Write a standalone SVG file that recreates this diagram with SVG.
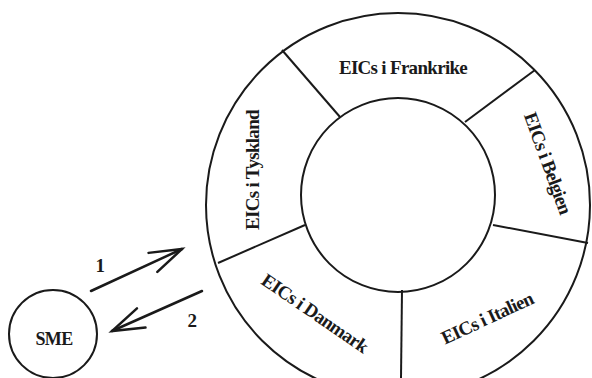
<svg xmlns="http://www.w3.org/2000/svg" width="592" height="378" viewBox="0 0 592 378">
<style>
.ln{fill:none;stroke:#1a1a1a;stroke-width:2}
.ar{fill:none;stroke:#1a1a1a;stroke-width:2.5;stroke-linecap:round}
.t{font-family:"Liberation Serif","Times New Roman",serif;font-weight:bold;font-size:19px;fill:#1a1a1a;text-anchor:middle;dominant-baseline:central;letter-spacing:-0.7px}
</style>
<defs>
<marker id="head" markerUnits="userSpaceOnUse" markerWidth="40" markerHeight="30" viewBox="-36 -15 40 30" refX="0" refY="0" orient="auto">
<path d="M-32,-10.5 L0,0 L-32,10.5" fill="none" stroke="#1a1a1a" stroke-width="2.5" stroke-linecap="round" stroke-linejoin="miter"/>
</marker>
</defs>
<rect width="592" height="378" fill="#fff"/>
<g id="ring">
<circle class="ln" cx="398" cy="205" r="192"/>
<circle class="ln" cx="398" cy="195" r="97"/>
</g>
<g id="dividers">
<line class="ln" x1="282" y1="50" x2="340" y2="117"/>
<line class="ln" x1="535" y1="70" x2="465" y2="122"/>
<line class="ln" x1="493" y1="225" x2="588" y2="243"/>
<line class="ln" x1="402" y1="290" x2="401" y2="378"/>
<line class="ln" x1="305" y1="225" x2="218" y2="263"/>
</g>
<g id="frankrike"><text class="t" x="403" y="67">EICs i Frankrike</text></g>
<g id="tyskland"><text class="t" transform="translate(252,170) rotate(-90)">EICs i Tyskland</text></g>
<g id="belgien"><text class="t" transform="translate(548,163) rotate(70)">EICs i Belgien</text></g>
<g id="italien"><text class="t" transform="translate(487,318) rotate(-25)">EICs i Italien</text></g>
<g id="danmark"><text class="t" transform="translate(315,313) rotate(34.5)">EICs i Danmark</text></g>
<g id="sme">
<circle class="ln" cx="53" cy="334" r="44"/>
<text class="t" x="54" y="339" style="font-size:18px">SME</text>
</g>
<g id="connectors">
<line class="ar" x1="91" y1="291" x2="182" y2="249" marker-end="url(#head)"/>
<line class="ar" x1="202" y1="291" x2="112" y2="331" marker-end="url(#head)"/>
<text class="t" x="100" y="265">1</text>
<text class="t" x="192" y="320">2</text>
</g>
</svg>
